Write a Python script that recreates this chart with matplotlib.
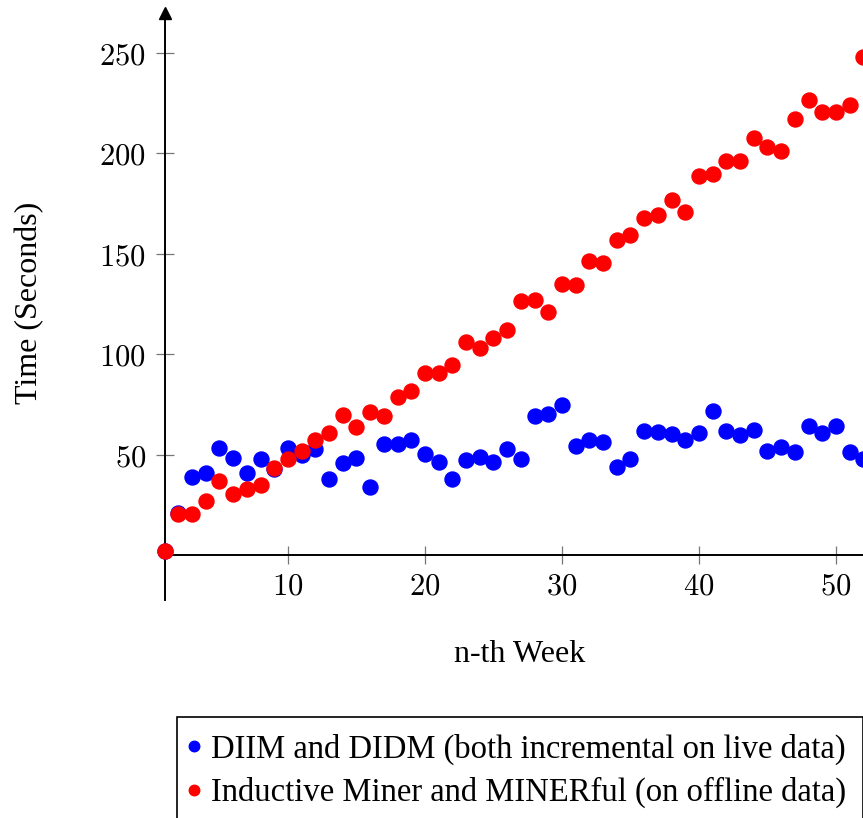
import matplotlib
matplotlib.use("Agg")
import matplotlib.pyplot as plt

# weeks and run times (seconds)
weeks = list(range(1, 53))
diim_didm = [2, 21, 39, 41, 53.5, 48.5, 41, 48, 43, 53.5,
             50, 53, 38, 46, 48.5, 34, 55.5, 55.5, 57.5, 50.5,
             46.5, 38, 47.5, 49, 46.5, 53, 48, 69.5, 70.5, 75,
             54.5, 57.5, 56.5, 44, 48, 62, 61.5, 60.5, 57.5, 61,
             72, 62, 60, 62.5, 52, 54, 51.5, 64.5, 61, 64.5,
             51.5, 48]
im_minerful = [2, 20.6, 20.6, 27, 37, 30.6, 33, 35, 43.5, 48,
               52, 57.5, 61, 70, 64, 71.5, 69.5, 79, 82, 91,
               91, 95, 106, 103, 108, 112, 126.5, 127, 121, 135,
               134.5, 146.5, 145.5, 157, 159.5, 168, 169.5, 177, 171, 189,
               190, 196, 196, 207.5, 203, 201, 217, 226.5, 220.5, 220.5,
               224, 248]

x_ticks = [10, 20, 30, 40, 50]
y_ticks = [50, 100, 150, 200, 250]
labels = ["DIIM and DIDM (both incremental on live data)",
          "Inductive Miner and MINERful (on offline data)"]

plt.rcParams['mathtext.fontset'] = 'cm'
serif = ['Liberation Serif', 'DejaVu Serif']

fig = plt.figure(figsize=(8.63, 8.18), dpi=100)
# right side of the axes runs past the figure edge, as in the cropped original
ax = fig.add_axes([0.1908, 0.2669, 0.8731, 0.7175])

ax.plot(weeks, diim_didm, "o", color="blue", markersize=10.8, clip_on=False,
        label=labels[0], zorder=3)
ax.plot(weeks, im_minerful, "o", color="red", markersize=10.8, clip_on=False,
        label=labels[1], zorder=4)

ax.set_xlim(1, 56)
ax.set_ylim(-22, 270)

ax.spines['top'].set_visible(False)
ax.spines['right'].set_visible(False)
ax.spines['bottom'].set_position(('data', 0))
for s in ('left', 'bottom'):
    ax.spines[s].set_linewidth(1.4)
    ax.spines[s].set_zorder(2)
ax.plot(0, 1, marker="^", color="black", markersize=8,
        transform=ax.transAxes, clip_on=False)

ax.set_xticks(x_ticks)
ax.set_xticklabels([f"${t}$" for t in x_ticks])
ax.set_yticks(y_ticks)
ax.set_yticklabels([f"${t}$" for t in y_ticks])
ax.tick_params(direction='inout', length=13, width=0.9, color='#777777',
               labelsize=22)
ax.tick_params(axis='y', pad=7)
ax.tick_params(axis='x', pad=5)

fig.text(520 / 863, 1 - 655 / 818, "n-th Week", family=serif, fontsize=23,
         ha='center', va='center')
fig.text(30 / 863, 1 - 303 / 818, "Time (Seconds)", family=serif, fontsize=23,
         ha='center', va='center', rotation=90)

leg = fig.legend(loc='upper left', bbox_to_anchor=(177 / 863, 1 - 717 / 818),
                 borderaxespad=0, fancybox=False, edgecolor='black',
                 prop={'family': serif, 'size': 23.5}, markerscale=0.7,
                 handlelength=0.05, handletextpad=0.5, borderpad=0.5,
                 labelspacing=0.38, framealpha=1)
leg.get_frame().set_linewidth(1.2)

fig.savefig("out.png", dpi=100)
